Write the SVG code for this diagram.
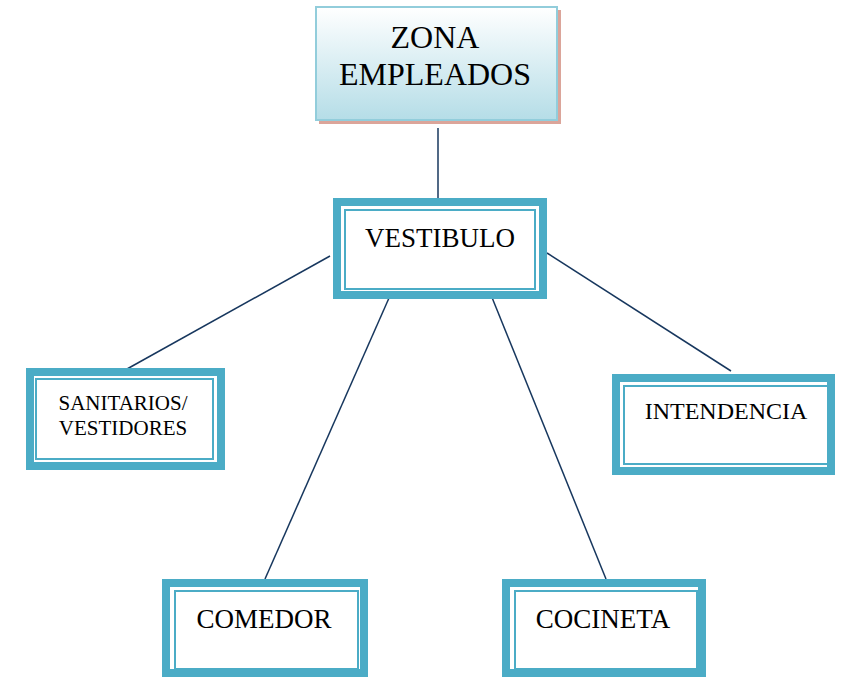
<svg xmlns="http://www.w3.org/2000/svg" width="842" height="678" viewBox="0 0 842 678">
<style>
.thick{fill:#fff;stroke:#4bacc6;stroke-width:8}
.thin{fill:none;stroke:#4bacc6;stroke-width:2}
.t{font-family:"Liberation Serif","Times New Roman",serif;fill:#000;text-anchor:middle}
.c{stroke:#17375e;stroke-width:1.5;fill:none}
</style>
<defs>
<linearGradient id="g" x1="0" y1="0" x2="0" y2="1">
<stop offset="0" stop-color="#ffffff"/>
<stop offset="1" stop-color="#b5dde7"/>
</linearGradient>
</defs>
<rect width="842" height="678" fill="#fff"/>
<g id="connectors">
<line class="c" x1="438" y1="128" x2="438" y2="198"/>
<line class="c" x1="330" y1="256" x2="127" y2="369"/>
<line class="c" x1="389" y1="298" x2="265" y2="579"/>
<line class="c" x1="491" y1="295" x2="606" y2="579"/>
<line class="c" x1="547" y1="253" x2="731" y2="371"/>
</g>
<g id="zona">
<rect x="319" y="10" width="242" height="114" fill="#dba59a"/>
<rect x="316" y="7" width="241" height="113" fill="url(#g)" stroke="#92cddb" stroke-width="2"/>
<text class="t" x="435" y="48" font-size="32">ZONA</text>
<text class="t" x="435" y="85" font-size="32">EMPLEADOS</text>
</g>
<g id="vestibulo">
<rect class="thick" x="337" y="202" width="206" height="93"/>
<rect class="thin" x="345" y="210" width="190" height="79"/>
<text class="t" x="440" y="247" font-size="27">VESTIBULO</text>
</g>
<g id="sanitarios">
<rect class="thick" x="30" y="372" width="191" height="94"/>
<rect class="thin" x="36" y="379" width="177" height="80"/>
<text class="t" x="123" y="410" font-size="21">SANITARIOS/</text>
<text class="t" x="123" y="435" font-size="21">VESTIDORES</text>
</g>
<g id="intendencia">
<rect class="thick" x="616" y="378" width="215" height="93"/>
<rect class="thin" x="624" y="386" width="205" height="78"/>
<text class="t" x="726" y="419" font-size="24">INTENDENCIA</text>
</g>
<g id="comedor">
<rect class="thick" x="166" y="583" width="198" height="90"/>
<rect class="thin" x="175" y="591" width="183" height="78"/>
<text class="t" x="264" y="628" font-size="27">COMEDOR</text>
</g>
<g id="cocineta">
<rect class="thick" x="506" y="583" width="196" height="90"/>
<rect class="thin" x="515" y="591" width="182" height="78"/>
<text class="t" x="603" y="628" font-size="27">COCINETA</text>
</g>
</svg>
